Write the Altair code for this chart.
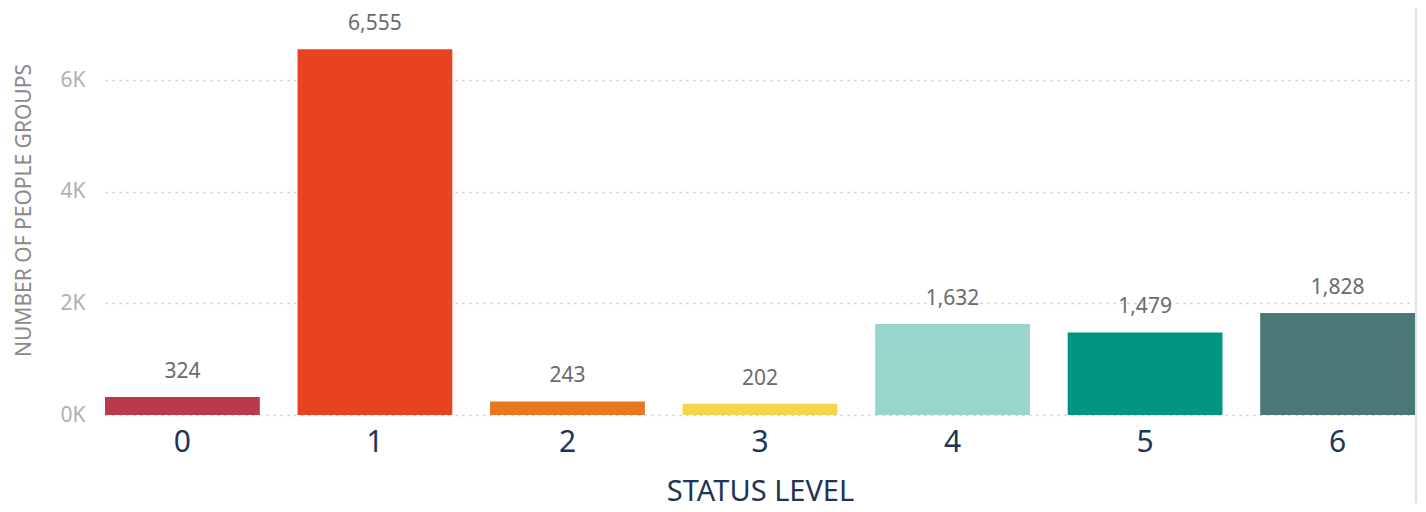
import altair as alt
import pandas as pd

levels = ["0", "1", "2", "3", "4", "5", "6"]
counts = [324, 6555, 243, 202, 1632, 1479, 1828]
colors = ["#B83A4B", "#E84321", "#E87722", "#F2D64B", "#9AD5CD", "#009681", "#497877"]
y_ticks = [0, 2000, 4000, 6000]

df = pd.DataFrame({"level": levels, "count": counts})

FONT = "Noto Sans"

x_enc = alt.X(
    "level:N",
    sort=levels,
    scale=alt.Scale(paddingInner=0.196, paddingOuter=0),
    axis=alt.Axis(
        title="STATUS LEVEL",
        labelAngle=0,
        labelFont=FONT,
        labelFontSize=30,
        labelColor="#1D3557",
        labelPadding=12,
        ticks=False,
        domain=False,
        titleFont=FONT,
        titleFontSize=29,
        titleFontWeight="normal",
        titleColor="#1D3557",
        titlePadding=20,
    ),
)

y_enc = alt.Y(
    "count:Q",
    scale=alt.Scale(domain=[0, 6900], nice=False),
    axis=alt.Axis(
        title="NUMBER OF PEOPLE GROUPS",
        values=y_ticks,
        labelExpr="datum.value / 1000 + 'K'",
        labelFont=FONT,
        labelFontSize=21,
        labelColor="#B0B0B0",
        labelPadding=20,
        ticks=False,
        domain=False,
        grid=True,
        gridColor="#C8C8C8",
        gridDash=[2, 5],
        gridWidth=1.5,
        titleFont=FONT,
        titleFontSize=21,
        titleFontWeight="normal",
        titleColor="#8A8A8A",
        titleBaseline="alphabetic",
        titleX=-75,
        titleY=180,
    ),
)

bars = alt.Chart(df).mark_bar().encode(
    x=x_enc,
    y=y_enc,
    color=alt.Color("level:N", scale=alt.Scale(domain=levels, range=colors), legend=None),
)

labels = alt.Chart(df).mark_text(
    baseline="alphabetic", dy=-19, font=FONT, fontSize=21, color="#6B6B6B"
).encode(
    x=alt.X("level:N", sort=levels),
    y=alt.Y("count:Q"),
    text=alt.Text("count:Q", format=","),
)

border = alt.Chart(df).mark_rule(color="#E2E2E2", strokeWidth=2).encode(
    x=alt.value(1311), y=alt.value(-30), y2=alt.value(500)
)

chart = (
    alt.layer(bars, labels, border)
    .properties(
        width=1310,
        height=385,
        autosize=alt.AutoSizeParams(type="none"),
        padding={"left": 97, "top": 22, "right": 3, "bottom": 88},
    )
    .configure_view(stroke=None)
)

chart.save("out.html", embed_options={"renderer": "svg", "actions": False})
